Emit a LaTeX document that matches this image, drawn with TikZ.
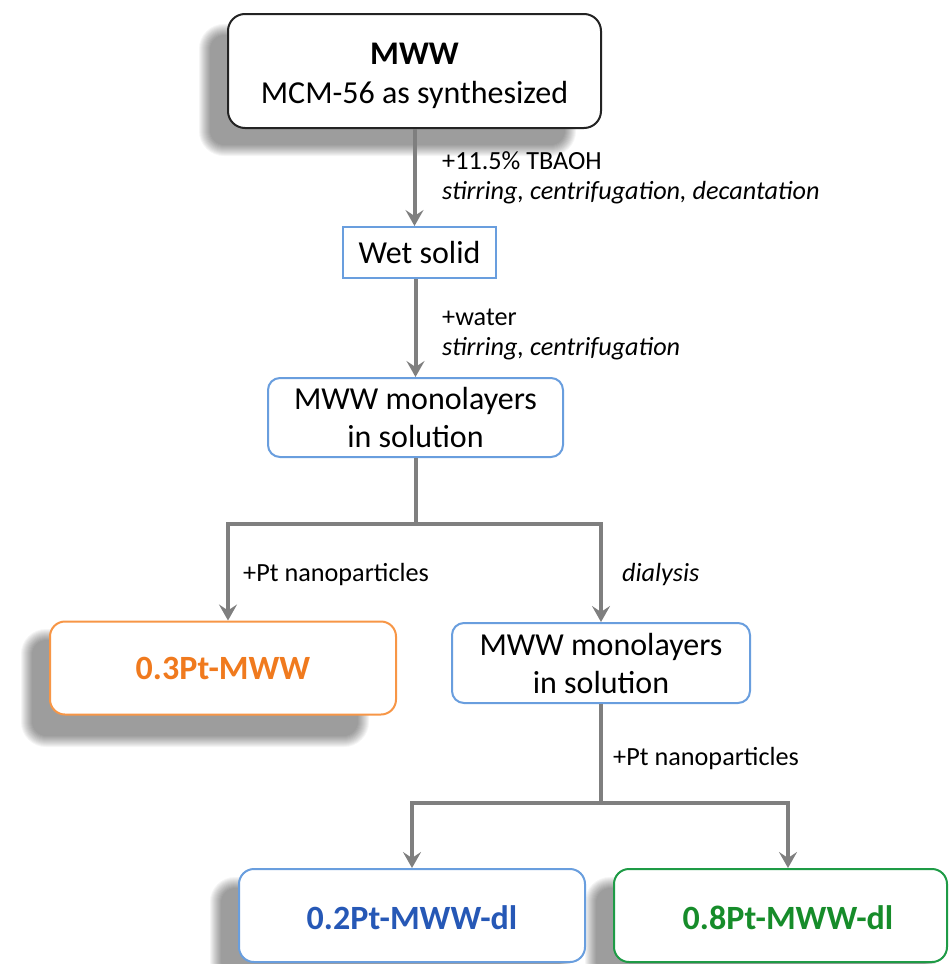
\documentclass[tikz,border=0pt]{standalone}
\usepackage{fontspec}
\setmainfont{Carlito}
\usetikzlibrary{arrows.meta}
\definecolor{arrgray}{RGB}{127,127,127}
\definecolor{bxblue}{RGB}{105,158,222}
\definecolor{bxorange}{RGB}{247,150,70}
\definecolor{txorange}{RGB}{240,122,30}
\definecolor{txblue}{RGB}{38,88,182}
\definecolor{bxgreen}{RGB}{30,155,70}
\definecolor{txgreen}{RGB}{22,140,42}
\definecolor{bxblack}{RGB}{35,35,35}
\newcommand\softshadow[4]{%
  \foreach \k in {0,...,11}{%
    \pgfmathsetmacro\rr{14+\k}%
    \fill[black, opacity=0.04, rounded corners=\rr pt] ({#1-\k},{#2-\k}) rectangle ({#3+\k},{#4+\k});
  }}
\tikzset{
  arr/.style={draw=arrgray, line width=4pt, -{Stealth[length=16pt,width=18pt,inset=6pt]}},
  conn/.style={draw=arrgray, line width=4pt},
  box/.style={line width=2pt, fill=white, inner sep=0pt, font=\fontsize{32}{38}\selectfont},
  bluebox/.style={box, draw=bxblue},
  resbox/.style={box, rounded corners=15pt, minimum width=346pt, minimum height=93pt, font=\fontsize{34}{40}\selectfont\bfseries},
  lab/.style={anchor=base west, inner sep=0pt, font=\fontsize{26.2}{30}\selectfont},
}
\begin{document}
\begin{tikzpicture}[x=1pt,y=-1pt]
\useasboundingbox (0,0) rectangle (949,964);
% shadows
\softshadow{210}{35}{565}{145}
\softshadow{32}{640}{358}{736}
\softshadow{221}{888}{560}{975}
\softshadow{596}{888}{925}{975}
% boxes
\node[box, draw=bxblack, rounded corners=17pt, minimum width=373pt, minimum height=114pt, align=center] (mww) at (414.5,71)
  {\rule{0pt}{32pt}{\fontsize{33}{40}\selectfont\bfseries MWW}\\[1pt] MCM-56 as synthesized};
\node[bluebox, minimum width=153pt, minimum height=51pt] (wet) at (419.5,252.5) {Wet solid};
\node[bluebox, rounded corners=12pt, minimum width=295pt, minimum height=79pt, align=center] (mono1) at (415.5,417.5)
  {MWW monolayers\\ in solution};
\node[resbox, draw=bxorange, text=txorange] (orange) at (223,668) {0.3Pt-MWW};
\node[bluebox, rounded corners=12pt, minimum width=298pt, minimum height=80pt, align=center] (mono2) at (601,663)
  {MWW monolayers\\ in solution};
\node[resbox, draw=bxblue, text=txblue] (blue2) at (412,915.5) {\rule{0pt}{28pt}0.2Pt-MWW-dl};
\node[resbox, draw=bxgreen, text=txgreen, minimum width=333pt] (green) at (780.5,915.5) {\rule{0pt}{28pt}\hspace*{15pt}0.8Pt-MWW-dl};
% labels
\node[lab] (l1a) at (442,169) {+11.5\% TBAOH};
\node[lab] (l1b) at (442,199) {\itshape stirring, centrifugation, decantation};
\node[lab] (l2a) at (442,325) {+water};
\node[lab] (l2b) at (442,355) {\itshape stirring, centrifugation};
\node[lab] (l3) at (243,581) {+Pt nanoparticles};
\node[lab] (l4) at (622,581) {\itshape dialysis};
\node[lab] (l5) at (613,765) {+Pt nanoparticles};
% connectors
\draw[arr] (mww.south) -- (mww.south |- wet.north);
\draw[arr] (wet.south -| mono1.north) -- (mono1.north);
\coordinate (s1) at (415.5,524);
\draw[conn] (mono1.south) -- (s1);
\draw[arr] (s1) -| ([xshift=5pt]orange.north);
\draw[arr] (s1) -| (mono2.north);
\coordinate (s2) at (601,803);
\draw[conn] (mono2.south) -- (s2);
\draw[arr] (s2) -| (blue2.north);
\draw[arr] (s2) -| ([xshift=7.5pt]green.north);
\end{tikzpicture}
\end{document}
